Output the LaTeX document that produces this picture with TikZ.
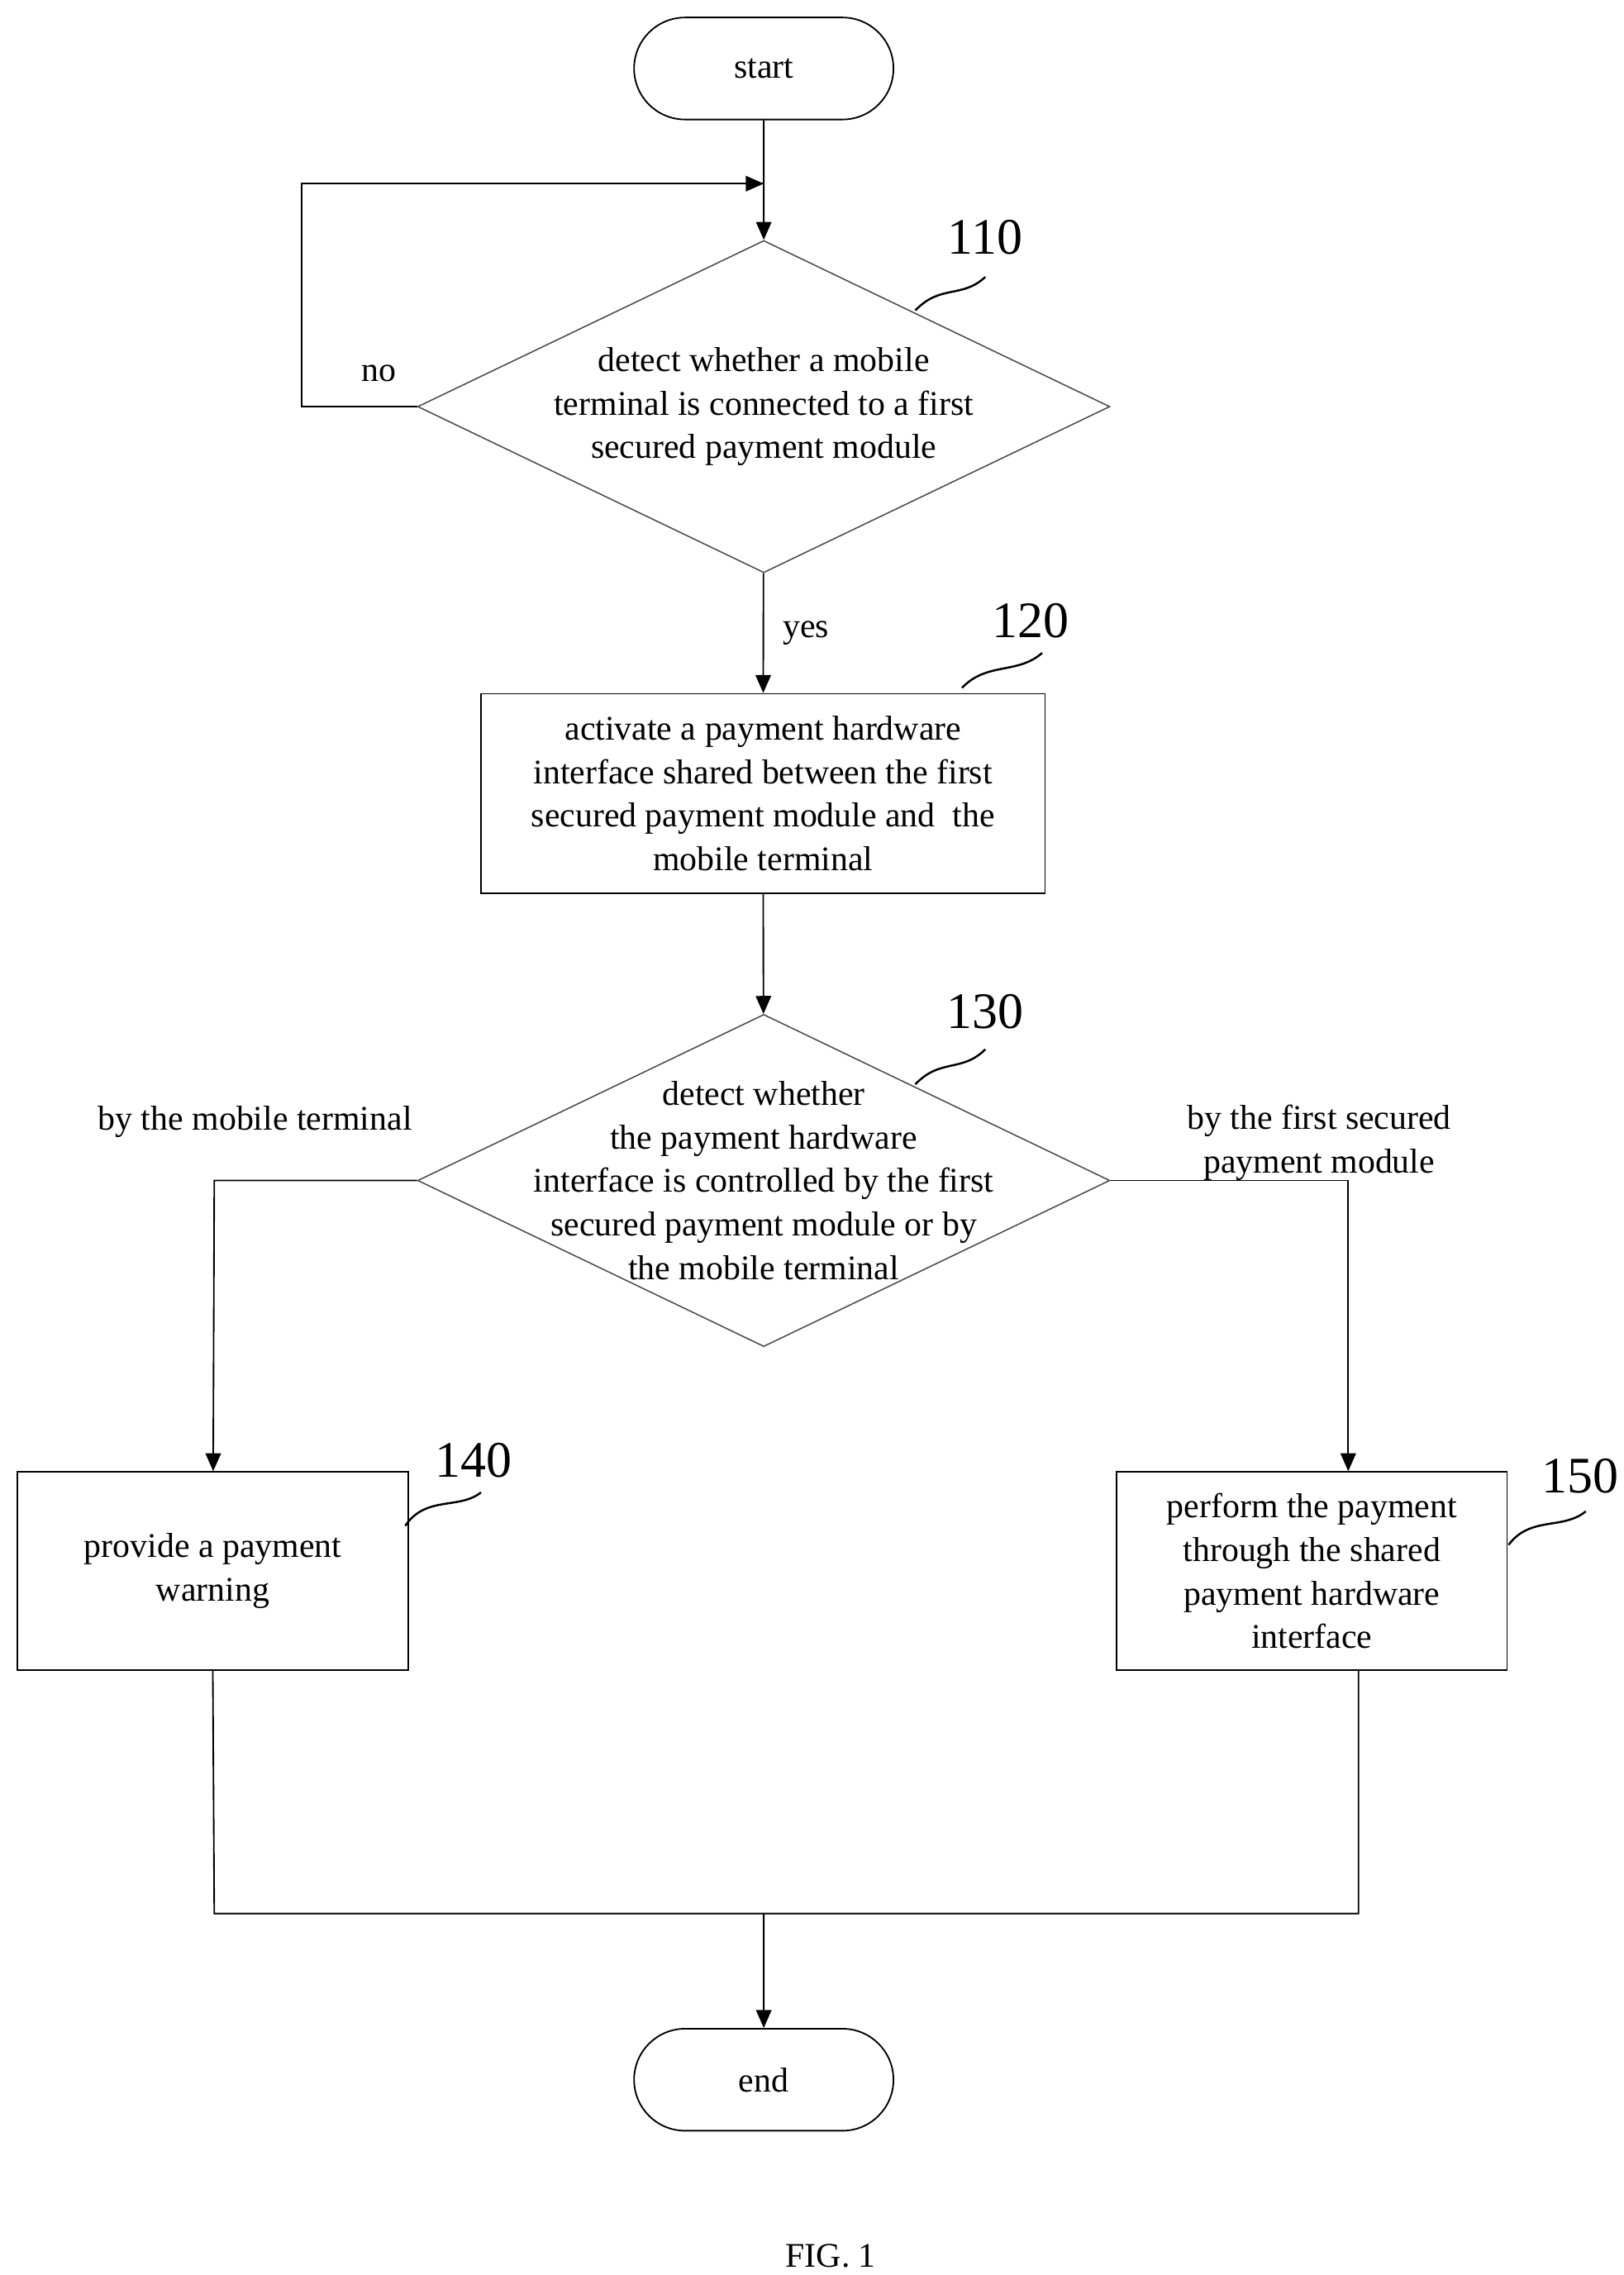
\documentclass[tikz,border=0pt]{standalone}
\usepackage{fontspec}
\setmainfont{Liberation Serif}
\usetikzlibrary{shapes.geometric,arrows.meta}
\tikzset{
  flow/.style={draw=black,line width=0.6pt},
  term/.style={flow,rounded rectangle,minimum width=3.56cm,minimum height=1.4cm,inner sep=0pt},
  proc/.style={flow,rectangle,inner sep=0pt,align=center},
  decide/.style={draw=black!70,line width=0.5pt,diamond,minimum width=9.5cm,minimum height=4.56cm,inner sep=0pt},
  tag/.style={font=\fontsize{20}{22}\selectfont},
  arr/.style={flow,-{Triangle[length=7pt,width=6pt]}},
  wave/.style={line width=0.8pt}
}
\usetikzlibrary{shapes.misc}
\begin{document}
\begin{tikzpicture}[x=0.02cm,y=-0.02cm,font=\fontsize{13.5}{17}\selectfont]
\useasboundingbox (0,0) rectangle (1114,1561);
% terminals
\node[term] (start) at (524,47) {start};
\node[term] (end) at (524,1427) {end};
% decisions
\node[decide] (d110) at (524,279) {};
\node[align=center] (t110) at (524,279) {detect whether a mobile\\terminal is connected to a first\\secured payment module};
\node[decide] (d130) at (524,810) {};
\node[align=center] (t130) at (524,810) {detect whether\\the payment hardware\\interface is controlled by the first\\secured payment module or by\\the mobile terminal};
% processes
\node[proc,minimum width=7.74cm,minimum height=2.74cm] (p120) at (523.5,544.5) {activate a payment hardware\\interface shared between the first\\secured payment module and\ \ the\\mobile terminal};
\node[proc,minimum width=5.36cm,minimum height=2.72cm] (p140) at (146,1078) {provide a payment\\warning};
\node[proc,minimum width=5.36cm,minimum height=2.72cm] (p150) at (900,1078) {perform the payment\\through the shared\\payment hardware\\interface};
% helper points
\coordinate (loopA) at (207,279);
\coordinate (loopB) at (207,126);
\coordinate (loopC) at (524,126);
\coordinate (lt) at (147,810);
\coordinate (rt) at (925,810);
\coordinate (lb) at (147,1313);
\coordinate (rb) at (932,1313);
\coordinate (mb) at (524,1313);
% connectors
\draw[arr] (start) -- (d110);
\draw[flow] (d110.west) -- (loopA) -- (loopB) -- (loopC);
\draw[arr] (loopB) -- (loopC);
\draw[arr] (d110) -- node[right=4pt] {yes} (p120);
\draw[arr] (p120) -- (d130);
\draw[arr] (d130.west) -- (lt) -- (p140);
\draw[arr] (d130.east) -- (rt) -- (rt |- p150.north);
\draw[flow] (p140.south) -- (lb) -- (rb) -- (rb |- p150.south);
\draw[arr] (mb) -- (end);
% labels
\node (no) at (260,256) {no};
\node (bymt) at (175,770) {by the mobile terminal};
\node[align=center] (byfs) at (905,784) {by the first secured\\payment module};
% reference numerals
\node[tag] (n110) at (676,163) {110};
\node[tag] (n120) at (707,426) {120};
\node[tag] (n130) at (676,694) {130};
\node[tag] (n140) at (325,1002) {140};
\node[tag] (n150) at (1084,1013) {150};
\draw[wave] (628,213) .. controls (645,195) and (660,205) .. (676,190);
\draw[wave] (660,472) .. controls (677,454) and (698,463) .. (715,448);
\draw[wave] (628,744) .. controls (645,726) and (660,736) .. (676,720);
\draw[wave] (278,1047) .. controls (292,1026) and (315,1036) .. (330,1024);
\draw[wave] (1035,1060) .. controls (1050,1040) and (1072,1050) .. (1088,1037);
\node (fig) at (570,1548) {FIG. 1};
\end{tikzpicture}
\end{document}
